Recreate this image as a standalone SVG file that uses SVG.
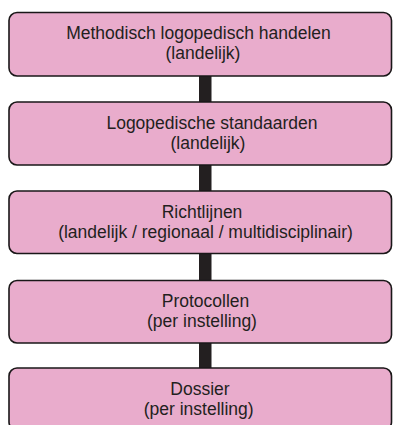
<svg xmlns="http://www.w3.org/2000/svg" width="393" height="425" viewBox="0 0 393 425">
<style>
.box{fill:#E9ACCC;stroke:#1a1718;stroke-width:1.6}
.t{font-family:"Liberation Sans",Arial,sans-serif;font-size:17.5px;fill:#231F20;text-anchor:middle}
.c{fill:#231F20}
</style>
<rect width="393" height="425" fill="#fff"/>
<g id="connectors">
<rect class="c" x="199" y="76" width="12.5" height="26"/>
<rect class="c" x="199" y="165" width="12.5" height="26"/>
<rect class="c" x="199" y="253.5" width="12.5" height="26.5"/>
<rect class="c" x="199" y="343" width="12.5" height="25"/>
</g>
<g id="n1"><rect class="box" x="9" y="12.5" width="382.5" height="63.5" rx="8"/>
<text class="t" x="198.5" y="39">Methodisch logopedisch handelen</text>
<text class="t" x="203" y="59">(landelijk)</text></g>
<g id="n2"><rect class="box" x="9" y="102" width="382.5" height="63" rx="8"/>
<text class="t" x="212" y="129">Logopedische standaarden</text>
<text class="t" x="208" y="149">(landelijk)</text></g>
<g id="n3"><rect class="box" x="9" y="191" width="382.5" height="62.5" rx="8"/>
<text class="t" x="202" y="218">Richtlijnen</text>
<text class="t" x="205.5" y="238">(landelijk / regionaal / multidisciplinair)</text></g>
<g id="n4"><rect class="box" x="9" y="280.5" width="382.5" height="62.5" rx="8"/>
<text class="t" x="205.5" y="307">Protocollen</text>
<text class="t" x="202" y="327">(per instelling)</text></g>
<g id="n5"><rect class="box" x="9" y="368" width="382.5" height="62" rx="8"/>
<text class="t" x="200" y="395">Dossier</text>
<text class="t" x="198.7" y="415">(per instelling)</text></g>
</svg>
